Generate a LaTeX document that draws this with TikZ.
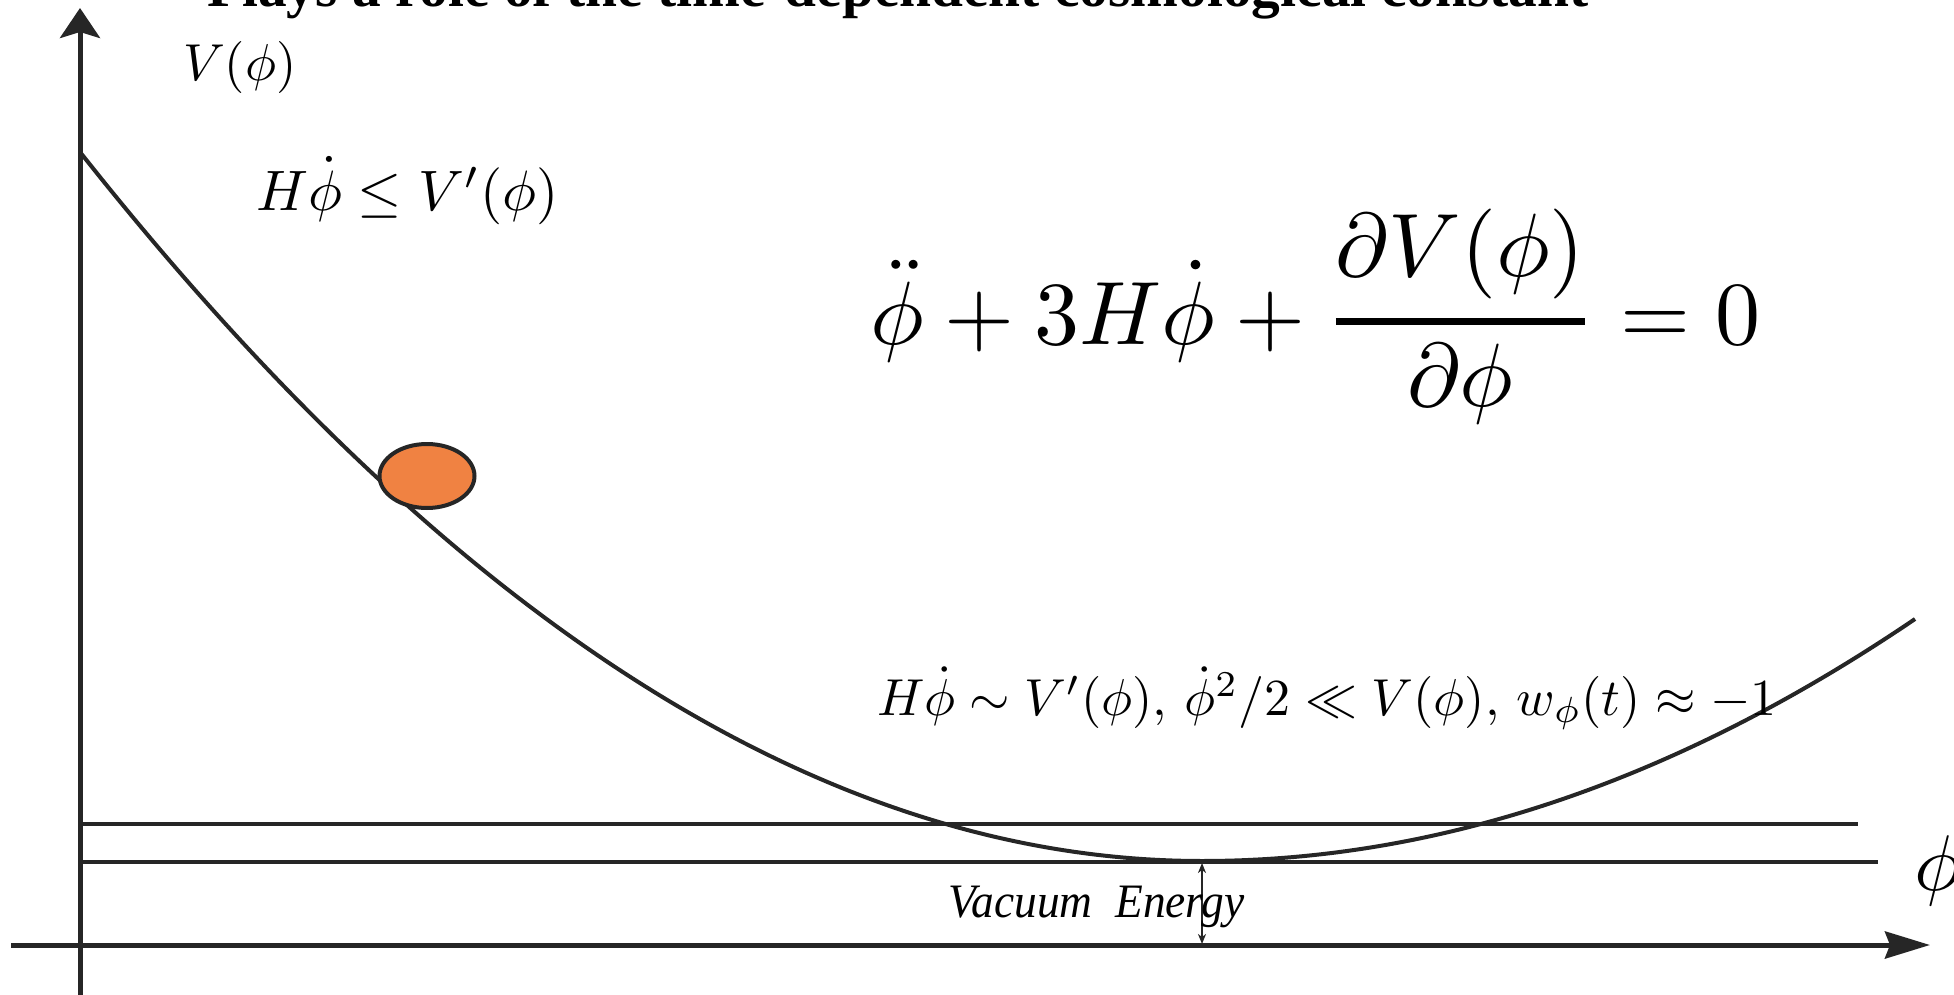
\documentclass[tikz,border=0pt]{standalone}
\usepackage{amsmath}
\usepackage{fontspec}
\newfontfamily\serifTNR{Liberation Serif}
\usetikzlibrary{arrows.meta,shapes.geometric}
\definecolor{inkgray}{RGB}{38,38,38}
\definecolor{ballorange}{RGB}{240,130,66}
\begin{document}
\begin{tikzpicture}[x=0.5pt,y=-0.5pt,
  axisline/.style={draw=inkgray,line width=2.5pt},
  levelline/.style={draw=inkgray,line width=2pt},
  potcurve/.style={draw=inkgray,line width=2pt},
  ballshape/.style={ellipse,draw=inkgray,line width=2pt,fill=ballorange,
    minimum width=47.5pt,minimum height=32pt,inner sep=0pt},
  gaparrow/.style={draw=inkgray,line width=0.8pt,
    {Stealth[length=5pt,width=4pt,inset=1.5pt]}-{Stealth[length=5pt,width=4pt,inset=1.5pt]}},
  label/.style={anchor=base west,inner sep=0pt,text=black}]
\useasboundingbox (0,0) rectangle (1954,995);
\clip (0,0) rectangle (1954,995);
% coordinates
\coordinate (ybot) at (80,1000);
\coordinate (ytop) at (80,8);
\coordinate (xleft) at (11,945);
\coordinate (xright) at (1930,945);
\coordinate (upA) at (80,824);
\coordinate (upB) at (1858,824);
\coordinate (loA) at (80,862);
\coordinate (loB) at (1878,862);
\coordinate (vmin) at (1202,863);
\coordinate (vaxis) at (1202,944);
% axes
\draw[axisline,-{Stealth[length=15pt,width=20pt,inset=3pt]}] (ybot) -- (ytop);
\draw[axisline,-{Stealth[length=22.5pt,width=13.5pt,inset=2.5pt]}] (xleft) -- (xright);
% level lines
\draw[levelline] (upA) -- (upB);
\draw[levelline] (loA) -- (loB);
% potential
\draw[potcurve] plot[domain=80:1202,samples=140] (\x,{861-5.632*((\x-1202)/100)^2})
  -- plot[domain=1202:1915,samples=90] (\x,{861-4.76*((\x-1202)/100)^2});
% ball
\node[ballshape] (ball) at (427,476) {};
% vacuum energy arrow
\draw[gaparrow] (vmin) -- (vaxis);
% labels
\node[label,scale=2.87] (title) at (206,7) {\serifTNR\bfseries Plays a role of the time-dependent cosmological constant};
\node[label,scale=2.6] (vphi) at (182,81) {$V(\phi)$};
\node[label,scale=2.85] (slow) at (255,210) {$H\dot\phi\leq V'(\phi)$};
\node[label,scale=4.5] (eom) at (869,344) {$\displaystyle \ddot\phi+3H\dot\phi+\genfrac{}{}{0.7pt}{0}{\partial V(\phi)}{\partial\phi}=0$};
\node[label,scale=2.6] (cond) at (876,715) {$H\dot\phi\sim V'(\phi),\,\dot\phi^2/2\ll V(\phi),\,w_\phi(t)\approx-1$};
\node[label,scale=3.95] (phiax) at (1913,890) {$\phi$};
\node[label,xscale=2.27,yscale=2.4] (vac) at (948,917) {\serifTNR\itshape Vacuum\ \ Energy};
\end{tikzpicture}
\end{document}
